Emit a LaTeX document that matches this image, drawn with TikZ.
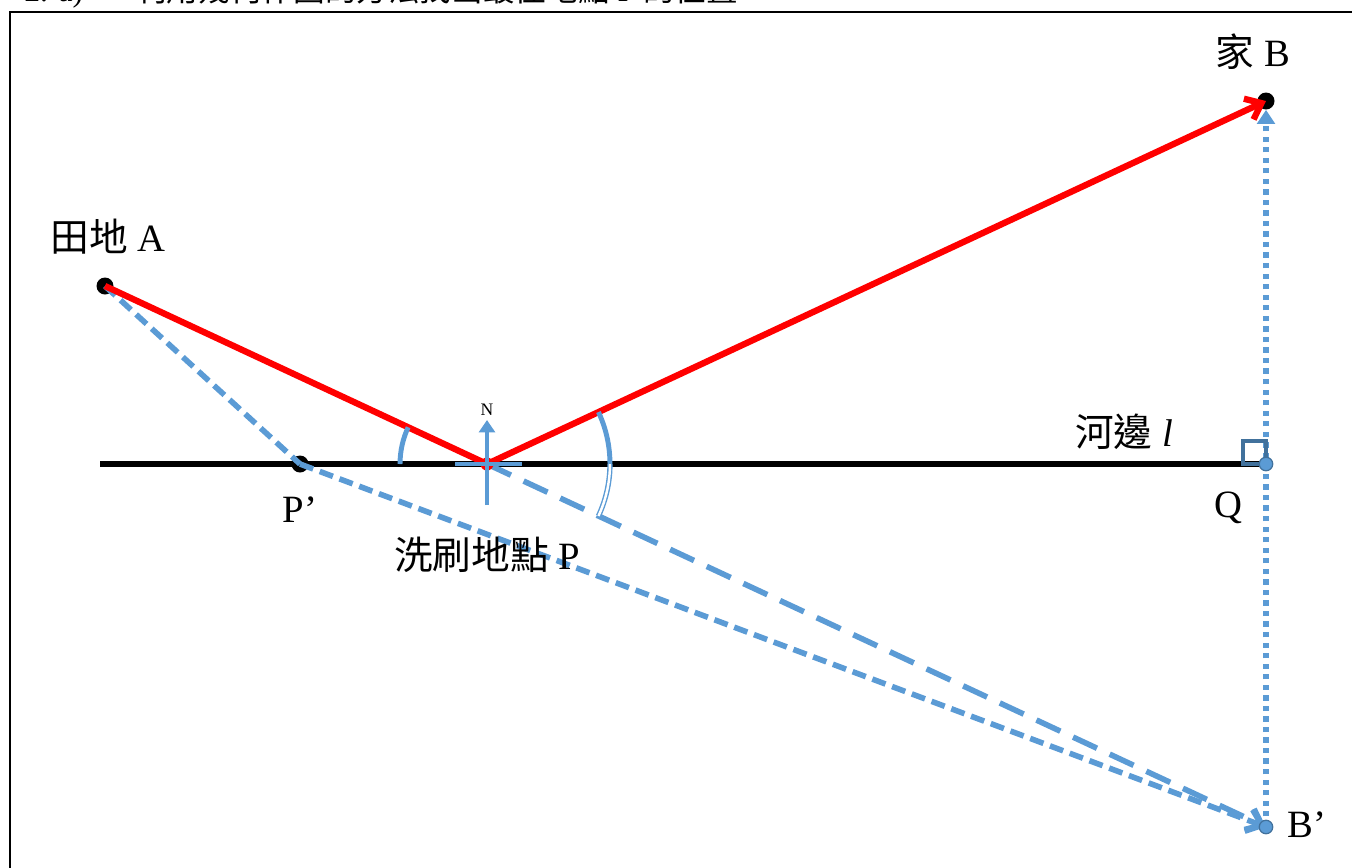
\documentclass[tikz,border=0pt]{standalone}
\usepackage{fontspec}
\setmainfont{Liberation Serif}
\newfontfamily\cjk{Noto Sans CJK TC}
\usetikzlibrary{arrows.meta}
\definecolor{red1}{HTML}{FF0000}
\definecolor{lblue}{HTML}{5B9BD5}
\definecolor{dblue}{HTML}{41719C}
\tikzset{
 dot/.style={circle, fill=black, inner sep=0pt, minimum size=0.34cm},
 qpt/.style={circle, fill=lblue, draw=dblue, line width=0.7pt, inner sep=0pt, minimum size=0.27cm},
 redline/.style={red1, line width=3.6pt},
 shortdash/.style={lblue, line width=3.2pt, dash pattern=on 8pt off 4pt},
 longdash/.style={lblue, line width=3.2pt, dash pattern=on 15pt off 8pt},
 dotline/.style={lblue, line width=3.2pt, dash pattern=on 3pt off 3pt},
 lbl/.style={font=\fontsize{22}{26}\selectfont, inner sep=0pt},
 toptext/.style={font=\fontsize{18}{22}\selectfont, inner sep=0pt, anchor=base west},
 anglearc/.style={lblue, line width=2.8pt},
 barb/.style={-{Straight Barb[length=8pt,width=13pt]}},
}
\begin{document}
\begin{tikzpicture}[x=0.02cm,y=-0.02cm]
\useasboundingbox (0,0) rectangle (1352,867);
% frame and cut-off heading
\draw[line width=1.3pt] (10,900) -- (10,12) -- (1400,12);
\node[toptext] (h1) at (24,1) {2. a)};
\node[toptext] (h2) at (135,1) {{\cjk 利用幾何作圖的方法找出最佳地點} P {\cjk 的位置}};
% points
\coordinate (L) at (100,464);
\node[dot] (A) at (105,286) {};
\node[dot] (B) at (1266,101) {};
\node[dot] (Pp) at (300,464) {};
\coordinate (P) at (487,464);
\coordinate (Q) at (1266,464);
\coordinate (Bp) at (1266,827);
% river
\draw[line width=3.2pt] (L) -- (Q);
% blue construction lines
\draw[shortdash] (A.center) -- (Pp.center);
\draw[shortdash, barb] (Pp.center) -- (Bp);
\draw[longdash, barb] (P) -- (Bp);
\draw[dotline, -{Triangle[length=8pt,width=10pt]}] (Bp) -- (B.south);
% right angle mark
\draw[dblue, line width=2.6pt] (1243,464) rectangle (1266,441);
\node[qpt] (Qn) at (Q) {};
\node[qpt] (Bpn) at (Bp) {};
% red path
\fill[red1] (P) circle[radius=0.13cm];
\draw[redline] (A.center) -- (P);
\draw[redline, barb] (P) -- (B.center);
% north cross
\coordinate (Nw) at (455,464);
\coordinate (Ne) at (522,464);
\coordinate (Ns) at (487,505);
\coordinate (Nn) at (487,420);
\draw[lblue, line width=2.3pt] (Nw) -- (Ne);
\draw[lblue, line width=2.3pt, -{Triangle[length=7pt,width=9pt]}] (Ns) -- (Nn);
\node[font=\fontsize{10}{12}\selectfont, inner sep=0pt] (N) at (487,410) {N};
% angle arcs
\draw[anglearc] ([shift={(155:1.74cm)}]P) arc[start angle=155, end angle=180, radius=1.74cm];
\draw[anglearc] ([shift={(25:2.46cm)}]P) arc[start angle=25, end angle=0, radius=2.46cm];
\draw[lblue, line width=0.8pt, double=white, double distance=1.4pt] ([shift={(0:2.46cm)}]P) arc[start angle=0, end angle=-25, radius=2.46cm];
% labels
\node[lbl] (lA) at (108,237) {{\cjk 田地} A};
\node[lbl] (lB) at (1253,52) {{\cjk 家} B};
\node[lbl] (ll) at (1124,432) {{\cjk 河邊} \textit{l}};
\node[lbl] (lPp) at (300,510) {P’};
\node[lbl] (lQ) at (1228,508) {Q};
\node[lbl] (lP) at (487,555) {{\cjk 洗刷地點} P};
\node[lbl] (lBp) at (1307,825) {B’};
\end{tikzpicture}
\end{document}
